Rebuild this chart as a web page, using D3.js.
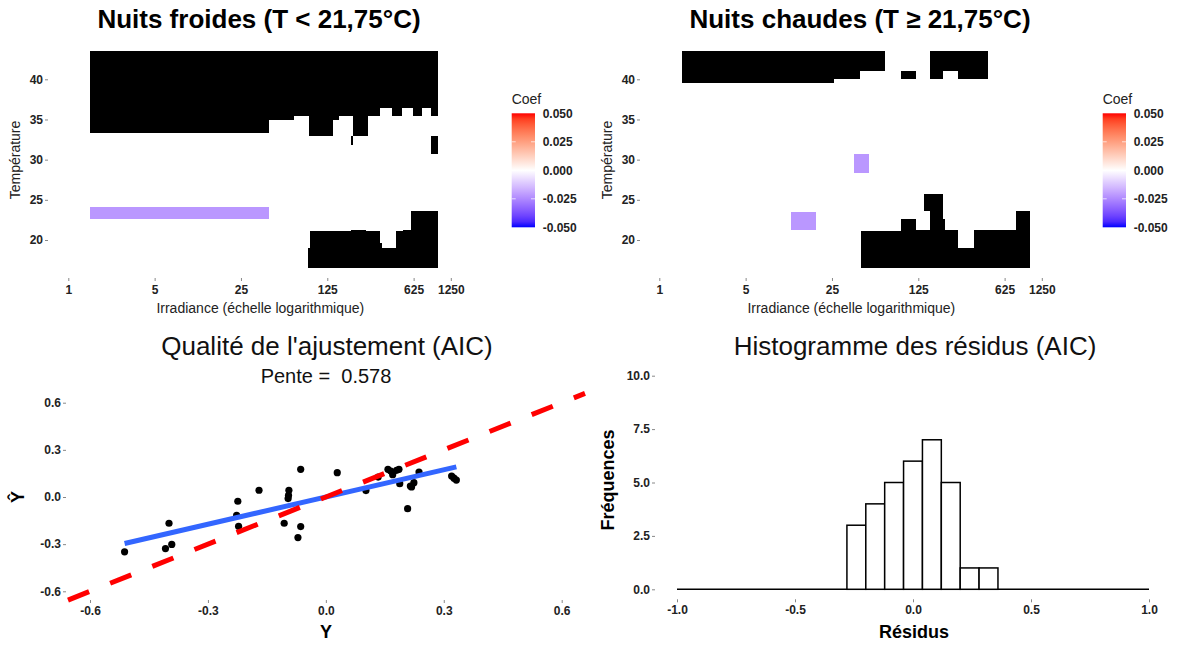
<!DOCTYPE html>
<html>
<head>
<meta charset="utf-8">
<script src="https://cdn.jsdelivr.net/npm/d3@7"></script>
<style>
  body { margin: 0; background: #fff; }
  text { font-family: "Liberation Sans", Arial, sans-serif; }
  .tick text { font-weight: bold; font-size: 12px; fill: #222; }
  .tick line { stroke: #888; }
</style>
</head>
<body>
<div id="chart"></div>
<script>
// heatmap cells: [irradiance from, irradiance to, temp from, temp to, coef] (coef null = black)
const coldCells = [
  [1.5, 42.4, 33.28, 43.5, null],
  [42.4, 67, 34.93, 43.5, null],
  [67, 89, 35.43, 43.5, null],
  [89, 140, 32.94, 43.5, null],
  [140, 155, 34.93, 43.5, null],
  [155, 203, 35.43, 43.5, null],
  [203, 269, 32.94, 43.5, null],
  [269, 334, 35.43, 43.5, null],
  [334, 416, 36.39, 43.5, null],
  [416, 506, 35.43, 43.5, null],
  [506, 615, 36.39, 43.5, null],
  [615, 727, 35.43, 43.5, null],
  [727, 860, 36.39, 43.5, null],
  [860, 991, 35.43, 43.5, null],
  [194, 200, 31.82, 32.94, null],
  [860, 991, 30.7, 32.94, null],
  [87.8, 90, 16.46, 18.95, null],
  [90, 195, 16.46, 21.11, null],
  [195, 257, 16.46, 21.23, null],
  [257, 334, 16.46, 21.11, null],
  [334, 349, 16.46, 19.58, null],
  [349, 450, 16.46, 18.95, null],
  [450, 510, 16.46, 21.11, null],
  [510, 592, 16.46, 21.23, null],
  [592, 991, 16.46, 23.6, null],
  [1.5, 42.4, 22.6, 24.06, -0.022]
];
const warmCells = [
  [1.52, 26.2, 39.5, 43.5, null],
  [26.2, 42.3, 40.04, 43.5, null],
  [42.3, 66.6, 41.03, 43.5, null],
  [90, 120, 40.04, 41.03, null],
  [156, 198, 40.04, 43.5, null],
  [198, 262, 41.03, 43.5, null],
  [262, 455, 40.04, 43.5, null],
  [42.9, 90.4, 16.5, 21.11, null],
  [90.4, 120, 16.5, 22.57, null],
  [120, 156, 16.5, 21.23, null],
  [156, 198, 16.5, 23.6, null],
  [140, 198, 23.6, 25.68, null],
  [198, 204, 16.5, 22.57, null],
  [204, 260, 16.5, 21.23, null],
  [260, 351, 16.5, 18.95, null],
  [351, 778, 16.5, 21.23, null],
  [778, 996, 16.5, 23.6, null],
  [37.8, 50.3, 28.37, 30.66, -0.022],
  [11.6, 18.5, 21.23, 23.51, -0.022]
];
const irrTicks = [1, 5, 25, 125, 625, 1250];
const tempTicks = [20, 25, 30, 35, 40];
const coefTicks = [0.05, 0.025, 0, -0.025, -0.05];

// fit quality
const obsY = [-0.512, -0.408, -0.392, -0.399, -0.224, -0.227, -0.222, -0.170, -0.094, -0.096,
  -0.106, -0.064, -0.071, -0.064, 0.029, 0.102, 0.133, 0.158, 0.170, 0.186,
  0.188, 0.218, 0.224, 0.237, 0.208, 0.320, 0.332, 0.165, 0.180, 0.215, 0.326, -0.095];
const predY = [-0.349, -0.328, -0.302, -0.167, -0.027, -0.116, -0.186, 0.043, 0.043, -0.010,
  -0.167, -0.188, -0.258, 0.176, 0.155, 0.041, 0.127, 0.176, 0.142, 0.176,
  0.085, 0.064, 0.091, 0.159, -0.074, 0.133, 0.108, 0.165, 0.170, 0.070, 0.120, 0.010];
const slope = 0.578, intercept = 0.0;
const fitTicks = [-0.6, -0.3, 0, 0.3, 0.6];

// residual histogram
const binEdges = [-0.28, -0.2, -0.12, -0.04, 0.04, 0.12, 0.2, 0.28, 0.36];
const binCounts = [3, 4, 5, 6, 7, 5, 1, 1];
const resTicks = [-1, -0.5, 0, 0.5, 1];
const freqTicks = [0, 2.5, 5, 7.5, 10];

const svg = d3.select("#chart").append("svg").attr("width", 1177).attr("height", 645);

const color = d3.scaleLinear().domain([-0.05, 0, 0.05])
  .range(["blue", "white", "red"]).interpolate(d3.interpolateLab);

const grad = svg.append("defs").append("linearGradient")
  .attr("id", "coefgrad").attr("x1", 0).attr("x2", 0).attr("y1", 0).attr("y2", 1);
d3.range(0, 21).forEach(function(i) {
  grad.append("stop").attr("offset", i / 20).attr("stop-color", color(0.05 - i * 0.005));
});

function heatmap(cells, x0, axisX, title, titleX, legX) {
  var x = d3.scaleLog().domain([1, 1250]).range([x0, x0 + 382.5]);
  var y = d3.scaleLinear().domain([20, 40]).range([240, 79.3]);

  svg.append("g").selectAll("rect").data(cells).enter().append("rect")
    .attr("x", d => x(d[0]))
    .attr("width", d => x(d[1]) - x(d[0]))
    .attr("y", d => y(d[3]))
    .attr("height", d => y(d[2]) - y(d[3]))
    .attr("fill", d => d[4] === null ? "black" : color(d[4]))
    .attr("shape-rendering", "crispEdges");

  var gx = svg.append("g").attr("transform", "translate(0,278)")
    .call(d3.axisBottom(x).tickValues(irrTicks).tickFormat(d3.format("d")).tickSize(3).tickPadding(4));
  gx.select(".domain").remove();
  var gy = svg.append("g").attr("transform", "translate(" + axisX + ",0)")
    .call(d3.axisLeft(y).tickValues(tempTicks).tickSize(3).tickPadding(2));
  gy.select(".domain").remove();

  svg.append("text").attr("x", titleX).attr("y", 28).attr("text-anchor", "middle")
    .attr("font-size", 26).attr("font-weight", "bold").text(title);
  svg.append("text").attr("x", x0 + 192).attr("y", 313).attr("text-anchor", "middle")
    .attr("font-size", 14).attr("fill", "#222").text("Irradiance (échelle logarithmique)");
  svg.append("text").attr("transform", "translate(" + (axisX - 28) + ",160) rotate(-90)")
    .attr("text-anchor", "middle").attr("font-size", 14).attr("fill", "#222").text("Température");

  // colour bar
  var c = d3.scaleLinear().domain([0.05, -0.05]).range([113.3, 227.3]);
  svg.append("text").attr("x", legX).attr("y", 104).attr("font-size", 14).attr("fill", "#222").text("Coef");
  svg.append("rect").attr("x", legX).attr("y", 113.3).attr("width", 23.3).attr("height", 114)
    .attr("fill", "url(#coefgrad)");
  coefTicks.forEach(function(v) {
    if (Math.abs(v) < 0.05) {
      svg.append("line").attr("x1", legX).attr("x2", legX + 4).attr("y1", c(v)).attr("y2", c(v))
        .attr("stroke", "white").attr("stroke-opacity", 0.7);
      svg.append("line").attr("x1", legX + 19.3).attr("x2", legX + 23.3).attr("y1", c(v)).attr("y2", c(v))
        .attr("stroke", "white").attr("stroke-opacity", 0.7);
    }
    svg.append("text").attr("x", legX + 31).attr("y", c(v)).attr("dy", "0.35em")
      .attr("font-size", 12).attr("font-weight", "bold").attr("fill", "#222")
      .text(d3.format(".3f")(v).replace("−", "-"));
  });
}

heatmap(coldCells, 68.3, 48, "Nuits froides (T < 21,75°C)", 259, 511.7);
heatmap(warmCells, 659.3, 640, "Nuits chaudes (T ≥ 21,75°C)", 860, 1102.7);

// fit quality panel
var fx = d3.scaleLinear().domain([-0.6, 0.6]).range([90, 561.7]);
var fy = d3.scaleLinear().domain([-0.6, 0.6]).range([591.3, 402.7]);

svg.append("g").selectAll("circle").data(obsY).enter().append("circle")
  .attr("cx", d => fx(d)).attr("cy", (d, i) => fy(predY[i])).attr("r", 3.6).attr("fill", "black");

var yMin = d3.min(obsY), yMax = d3.max(obsY);
svg.append("line")
  .attr("x1", fx(yMin)).attr("y1", fy(intercept + slope * yMin))
  .attr("x2", fx(yMax)).attr("y2", fy(intercept + slope * yMax))
  .attr("stroke", "#3366FF").attr("stroke-width", 5);

var lo = fx.invert(68), hi = fx.invert(585);
svg.append("line")
  .attr("x1", fx(lo)).attr("y1", fy(lo)).attr("x2", fx(hi)).attr("y2", fy(hi))
  .attr("stroke", "red").attr("stroke-width", 5).attr("stroke-dasharray", "22.7,22.7");

var fgx = svg.append("g").attr("transform", "translate(0,600)")
  .call(d3.axisBottom(fx).tickValues(fitTicks).tickFormat(d3.format(".1f")).tickSize(3).tickPadding(3));
fgx.select(".domain").remove();
var fgy = svg.append("g").attr("transform", "translate(66,0)")
  .call(d3.axisLeft(fy).tickValues(fitTicks).tickFormat(d3.format(".1f")).tickSize(3).tickPadding(2));
fgy.select(".domain").remove();

svg.append("text").attr("x", 327).attr("y", 355).attr("text-anchor", "middle")
  .attr("font-size", 26).attr("fill", "#111").text("Qualité de l'ajustement (AIC)");
svg.append("text").attr("x", 326).attr("y", 383).attr("text-anchor", "middle")
  .attr("font-size", 20).attr("fill", "#111").style("white-space", "pre")
  .text("Pente =  " + slope.toFixed(3));
svg.append("text").attr("x", 326).attr("y", 638).attr("text-anchor", "middle")
  .attr("font-size", 18).attr("font-weight", "bold").text("Y");
svg.append("text").attr("transform", "translate(24,497) rotate(-90)").attr("text-anchor", "middle")
  .attr("font-size", 18).attr("font-weight", "bold").text("Ŷ");

// residual histogram
var hx = d3.scaleLinear().domain([-1, 1]).range([677, 1149]);
var hy = d3.scaleLinear().domain([0, 10]).range([589.3, 375.7]);

svg.append("line").attr("x1", hx(-1)).attr("x2", hx(1)).attr("y1", hy(0)).attr("y2", hy(0))
  .attr("stroke", "black").attr("stroke-width", 1.5);
svg.append("g").selectAll("rect").data(binCounts).enter().append("rect")
  .attr("x", (d, i) => hx(binEdges[i]))
  .attr("width", (d, i) => hx(binEdges[i + 1]) - hx(binEdges[i]))
  .attr("y", d => hy(d)).attr("height", d => hy(0) - hy(d))
  .attr("fill", "white").attr("stroke", "black").attr("stroke-width", 1.5);

var hgx = svg.append("g").attr("transform", "translate(0,599.3)")
  .call(d3.axisBottom(hx).tickValues(resTicks).tickFormat(d3.format(".1f")).tickSize(3).tickPadding(3));
hgx.select(".domain").remove();
var hgy = svg.append("g").attr("transform", "translate(655,0)")
  .call(d3.axisLeft(hy).tickValues(freqTicks).tickFormat(d3.format(".1f")).tickSize(3).tickPadding(2));
hgy.select(".domain").remove();
svg.selectAll(".tick text").text(function() { return this.textContent.replace("−", "-"); });

svg.append("text").attr("x", 915).attr("y", 355).attr("text-anchor", "middle")
  .attr("font-size", 26).attr("fill", "#111").text("Histogramme des résidus (AIC)");
svg.append("text").attr("x", 914).attr("y", 638).attr("text-anchor", "middle")
  .attr("font-size", 18).attr("font-weight", "bold").text("Résidus");
svg.append("text").attr("transform", "translate(614,480) rotate(-90)").attr("text-anchor", "middle")
  .attr("font-size", 18).attr("font-weight", "bold").text("Fréquences");
</script>
</body>
</html>
